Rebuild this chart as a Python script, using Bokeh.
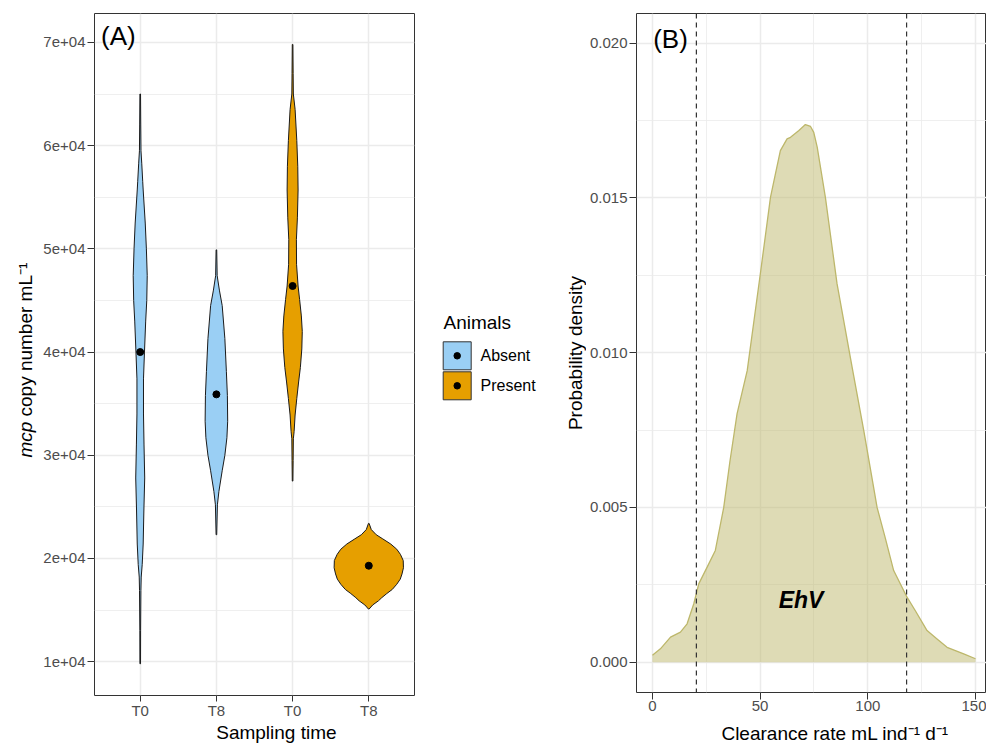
import numpy as np
from bokeh.plotting import figure
from bokeh.models import Range1d, FixedTicker, Label, Span, NumeralTickFormatter
from bokeh.layouts import row, column
from bokeh.embed import file_html
from bokeh.resources import INLINE
from bokeh.core.properties import value

FONT = "Liberation Sans"

# ---------------- Panel A data ----------------
tick_labels_x = ["T0", "T8", "T0", "T8"]
groups = ["Absent", "Absent", "Present", "Present"]
medians = [40000, 35900, 46400, 19300]
y_ticks_a = [10000, 20000, 30000, 40000, 50000, 60000, 70000]
y_tick_labels_a = ["1e+04", "2e+04", "3e+04", "4e+04", "5e+04", "6e+04", "7e+04"]

# violin outlines: copy number values and half-widths (scaled density)
v1_y = [65000, 62000, 59500, 58300, 56500, 55700, 52500, 50000, 47400, 45000, 43000, 40000,
        37400, 34000, 31000, 27800, 24600, 21400, 19400, 18200, 16900, 13000, 9800]
v1_w = [0.004, 0.007, 0.010, 0.020, 0.033, 0.039, 0.066, 0.081, 0.092, 0.086, 0.072, 0.056,
        0.043, 0.043, 0.050, 0.059, 0.048, 0.039, 0.026, 0.013, 0.009, 0.005, 0.004]

v2_y = [49900, 47400, 46000, 44500, 41300, 38100, 35800, 33300, 31700, 30000, 28500, 26500, 25200, 22300]
v2_w = [0.004, 0.010, 0.039, 0.076, 0.111, 0.131, 0.144, 0.148, 0.138, 0.111, 0.076, 0.033, 0.013, 0.004]

v3_y = [69800, 67000, 65000, 63500, 60500, 58000, 55700, 53000, 50900, 48500, 46400, 45100, 43500,
        42000, 40300, 38500, 37100, 35500, 33900, 32300, 31600, 29500, 27500]
v3_w = [0.004, 0.007, 0.010, 0.033, 0.055, 0.068, 0.072, 0.063, 0.050, 0.052, 0.072, 0.092, 0.115,
        0.127, 0.121, 0.102, 0.079, 0.055, 0.033, 0.020, 0.010, 0.007, 0.004]

v4_y = [23400, 22800, 22300, 21900, 21400, 20900, 20400, 19800, 19100, 18500, 18000, 17500, 17000,
        16600, 16200, 15900, 15500, 15100]
v4_w = [0.004, 0.033, 0.098, 0.183, 0.288, 0.367, 0.415, 0.452, 0.455, 0.436, 0.413, 0.367, 0.308,
        0.236, 0.170, 0.127, 0.052, 0.004]

# ---------------- Panel B data ----------------
dens_x = [0, 3.7, 8.4, 13.0, 16.1, 19.2, 21.5, 25.4, 29.2, 33.1, 36.0, 39.3, 44.0, 50.1, 54.8, 57.1,
          59.4, 62.5, 64.1, 68.0, 71.0, 73.4, 74.9, 76.5, 80.3, 85.7, 92.7, 98.1, 104.3, 108.0,
          112.0, 118.2, 122.0, 127.5, 132.0, 136.8, 144.5, 150.0]
dens_y = [0.00022, 0.00043, 0.00081, 0.00097, 0.00124, 0.00189, 0.00253, 0.00307, 0.00361, 0.00500,
          0.00650, 0.00803, 0.00942, 0.01255, 0.01502, 0.01578, 0.01653, 0.01691, 0.01696, 0.01718,
          0.01737, 0.01731, 0.01712, 0.01664, 0.01502, 0.01223, 0.00953, 0.00749, 0.00500, 0.00404,
          0.00296, 0.00210, 0.00167, 0.00102, 0.00076, 0.00048, 0.00027, 0.00011]
ci_lines = [20.4, 118.0]
x_ticks_b = [0, 50, 100, 150]
y_ticks_b = [0.0, 0.005, 0.010, 0.015, 0.020]

legend_title = "Animals"
legend_names = ["Absent", "Present"]

COLORS = {"Absent": "#9ACFF4", "Present": "#E69F00"}
GRID = "#EBEBEB"
DARK = "#333333"
TICKTXT = "#4D4D4D"


def style_axes(p):
    for ax in (p.xaxis[0], p.yaxis[0]):
        ax.axis_line_color = None
        ax.major_tick_line_color = DARK
        ax.major_tick_line_width = 1
        ax.major_tick_out = 7
        ax.major_tick_in = 0
        ax.minor_tick_line_color = None
        ax.major_label_text_font = FONT
        ax.major_label_text_font_size = "15px"
        ax.major_label_text_color = TICKTXT
    p.xaxis[0].major_label_standoff = 1
    p.yaxis[0].major_label_standoff = 2
    p.outline_line_color = DARK
    p.outline_line_width = 1
    p.background_fill_color = "white"
    p.border_fill_color = "white"
    for g in (p.xgrid[0], p.ygrid[0]):
        g.grid_line_color = GRID
        g.grid_line_width = 1.5
        g.minor_grid_line_color = GRID
        g.minor_grid_line_width = 0.8


def add_label(p, text, x, y, size, units="screen", angle=0, align="left", style="normal"):
    p.add_layout(Label(x=x, y=y, x_units=units, y_units=units, text=text, angle=angle,
                       angle_units="deg", text_align=align, text_baseline="middle",
                       text_font=FONT, text_font_size=size, text_font_style=style,
                       text_color="black"))


def blank_fig(w, h):
    f = figure(width=w, height=h, x_range=Range1d(0, w), y_range=Range1d(0, h),
               output_backend="svg", toolbar_location=None,
               x_axis_location=None, y_axis_location=None,
               min_border_left=0, min_border_right=0, min_border_top=0, min_border_bottom=0)
    f.xgrid.visible = False
    f.ygrid.visible = False
    f.outline_line_color = None
    f.background_fill_color = "white"
    f.border_fill_color = "white"
    return f


def add_text(f, x, y, text, size, angle=0.0, align="left", style="normal"):
    f.text(x=[x], y=[y], text=[text], angle=angle, text_font=value(FONT),
           text_font_size=value(size), text_font_style=value(style),
           text_align=value(align), text_baseline=value("middle"), text_color="black")


H = 743

# ---------------- y-axis title for panel A ----------------
ylab_a = blank_fig(38, H)
add_text(ylab_a, 25, H - 457, "mcp", "19px", angle=np.pi / 2, style="italic")
add_text(ylab_a, 25, H - 457 + 41, "copy number mL\u207b\u00b9", "19px", angle=np.pi / 2)

# ---------------- Panel A ----------------
p1 = figure(width=380, height=721, x_range=Range1d(0.4, 4.6), y_range=Range1d(6725, 72800),
            output_backend="svg", toolbar_location=None,
            min_border_left=56, min_border_right=4, min_border_top=13, min_border_bottom=23)
p1.xaxis.ticker = FixedTicker(ticks=[1, 2, 3, 4])
p1.xaxis.major_label_overrides = {i + 1: t for i, t in enumerate(tick_labels_x)}
p1.yaxis.ticker = FixedTicker(ticks=y_ticks_a, minor_ticks=[t - 5000 for t in y_ticks_a] + [75000])
p1.yaxis.major_label_overrides = dict(zip(y_ticks_a, y_tick_labels_a))
style_axes(p1)
p1.xaxis.major_tick_out = 6
p1.xaxis.major_label_standoff = 0
p1.xgrid.minor_grid_line_color = None

for i, (vy, vw) in enumerate([(v1_y, v1_w), (v2_y, v2_w), (v3_y, v3_w), (v4_y, v4_w)]):
    c = i + 1
    vy = np.array(vy, dtype=float)
    vw = np.array(vw, dtype=float)
    xs = np.concatenate([c + vw, (c - vw)[::-1]])
    ys = np.concatenate([vy, vy[::-1]])
    p1.patch(xs, ys, fill_color=COLORS[groups[i]], line_color="#1A1A1A", line_width=1)

p1.scatter(x=[1, 2, 3, 4], y=medians, size=7, color="black")
add_label(p1, "(A)", 6.5, 660, "26px")

xlab_a = blank_fig(380, 22)
add_text(xlab_a, 216, 11, "Sampling time", "19px", align="center")

# ---------------- Legend + y title of panel B ----------------
pl = blank_fig(168, H)
leg_y = [H - 355.3, H - 385.3]
pl.rect(x=[38.7, 38.7], y=leg_y, width=28, height=28,
        fill_color=[COLORS[n] for n in legend_names], line_color=DARK, line_width=1)
pl.scatter(x=[38.7, 38.7], y=leg_y, size=6.5, color="black")
add_text(pl, 25, H - 322, legend_title, "19px")
for n, yy in zip(legend_names, leg_y):
    add_text(pl, 62, yy, n, "16px")
add_text(pl, 156.5, H - 352.5, "Probability density", "19px", angle=np.pi / 2, align="center")

# ---------------- Panel B ----------------
p2 = figure(width=400, height=722, x_range=Range1d(-7.4, 155.1), y_range=Range1d(-0.00098, 0.02096),
            output_backend="svg", toolbar_location=None,
            min_border_left=50, min_border_right=0, min_border_top=13, min_border_bottom=30)
p2.xaxis.ticker = FixedTicker(ticks=x_ticks_b, minor_ticks=[25, 75, 125])
p2.yaxis.ticker = FixedTicker(ticks=y_ticks_b, minor_ticks=[0.0025, 0.0075, 0.0125, 0.0175])
p2.yaxis.formatter = NumeralTickFormatter(format="0.000")
style_axes(p2)

p2.varea(x=dens_x, y1=0, y2=dens_y, fill_color="#BDB76B", fill_alpha=0.5)
p2.line(dens_x, dens_y, line_color="#BDB76B", line_width=1.3)
for loc in ci_lines:
    p2.add_layout(Span(location=loc, dimension="height", line_dash="5 4",
                       line_color=DARK, line_width=1.2))

add_label(p2, "(B)", 16.7, 654, "26px")
add_label(p2, "EhV", 69, 0.002, "23px", units="data", align="center", style="bold italic")

xlab_b = blank_fig(400, 21)
add_text(xlab_b, 227, 10.5, "Clearance rate mL ind\u207b\u00b9 d\u207b\u00b9", "19px", align="center")

layout = row(ylab_a, column(p1, xlab_a), pl, column(p2, xlab_b))
open("out.html", "w").write(file_html(layout, INLINE))
